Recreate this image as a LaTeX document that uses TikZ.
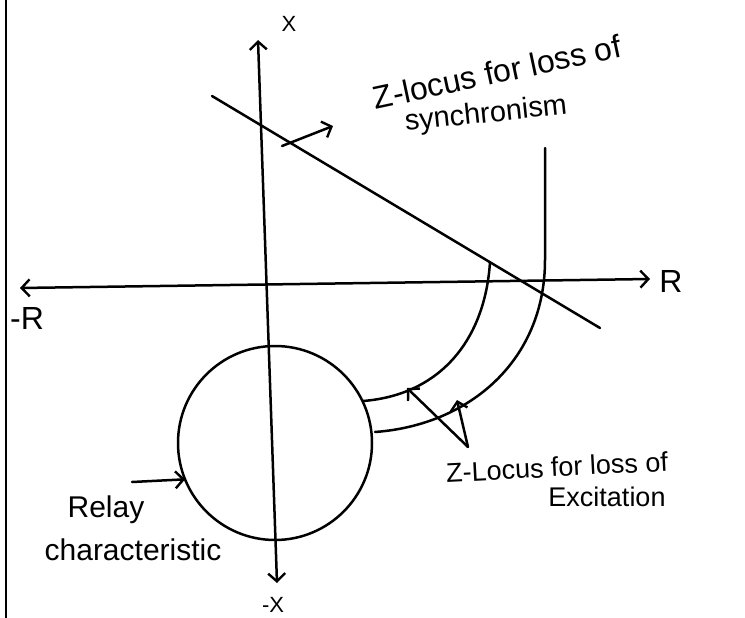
\documentclass[tikz,border=0pt]{standalone}
\usepackage{fontspec}
\setmainfont{Liberation Sans}
\usetikzlibrary{arrows.meta}
\begin{document}
\begin{tikzpicture}[x=1pt,y=-1pt, line width=2.5pt, line cap=round,
  barb/.tip={Straight Barb[length=8pt,width=17pt,line width=2.4pt]},
  tip/.style={-{barb}},
  lbl/.style={inner sep=0pt, font=\fontsize{#1}{#1}\selectfont},
  lbl/.default=26]
\useasboundingbox (0,0) rectangle (745,618);
% page edge
\coordinate (et) at (6,0); \coordinate (eb) at (6,618);
\draw[line width=1.6pt] (et) -- (eb);
% axes
\coordinate (xt) at (258,40); \coordinate (xb) at (277,583);
\coordinate (rl) at (20,288); \coordinate (rr) at (650,279);
\draw[{barb}-{barb}] (xb) -- (xt);
\draw[{barb}-{barb}] (rl) -- (rr);
\node[lbl=22] (xlab) at (289,24) {X};
\node[lbl=22] (mxlab) at (273,605) {-X};
\node[lbl=32] (rlab) at (671,281) {R};
\node[lbl=32] (mrlab) at (27,318) {-R};
% synchronism line
\coordinate (s1) at (212,96); \coordinate (s2) at (600,328);
\draw (s1) -- (s2);
\coordinate (sa) at (282,146); \coordinate (sb) at (333,126);
\draw[tip] (sa) -- (sb);
\node[lbl=32, rotate=12] (sync1) at (497,72) {Z-locus for loss of};
\node[lbl=29, rotate=6] (sync2) at (486,115) {synchronism};
% relay circle
\node[circle, draw, minimum size=194pt, inner sep=0pt, outer sep=0pt] (relay) at (275,443) {};
\coordinate (ra) at (132,482);
\draw[tip] (ra) -- (relay.202);
\node[lbl=30] (relay1) at (106,510) {Relay};
\node[lbl=30] (relay2) at (133,550) {characteristic};
% excitation loci
\coordinate (o1) at (545,148); \coordinate (o2) at (545,260); \coordinate (o3) at (375,432);
\draw (o1) -- (o2) .. controls (545,360) and (470,425) .. (o3);
\coordinate (i1) at (490,262); \coordinate (i2) at (363,401);
\draw (i1) .. controls (485,340) and (440,395) .. (i2);
\coordinate (apex) at (468,447);
\coordinate (ei) at (407,388); \coordinate (eo) at (457,400);
\draw[tip] (apex) -- (ei);
\draw[tip] (apex) -- (eo);
\node[lbl=27, rotate=3] (exc1) at (557,467) {Z-Locus for loss of};
\node[lbl=27] (exc2) at (607,497) {Excitation};
\end{tikzpicture}
\end{document}
